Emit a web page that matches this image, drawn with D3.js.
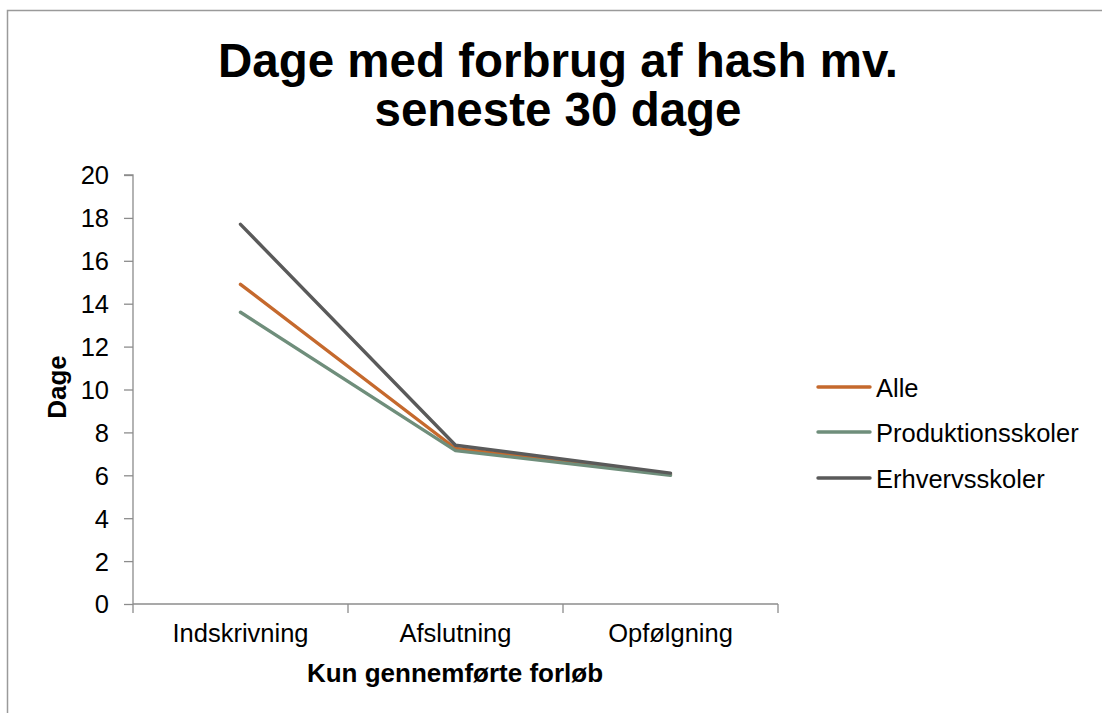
<!DOCTYPE html>
<html><head><meta charset="utf-8">
<script src="https://cdn.jsdelivr.net/npm/d3@7"></script>
<style>
html,body{margin:0;padding:0;background:#fff;}
svg{display:block;font-family:"Liberation Sans",Arial,sans-serif;}
</style></head>
<body>
<script>
const categories = ["Indskrivning", "Afslutning", "Opfølgning"];
const seriesNames = ["Alle", "Produktionsskoler", "Erhvervsskoler"];
const alle = [14.9, 7.25, 6.05];
const produktionsskoler = [13.6, 7.15, 6.0];
const erhvervsskoler = [17.7, 7.4, 6.1];
const yTicks = [0, 2, 4, 6, 8, 10, 12, 14, 16, 18, 20];
const colors = ["#C5692D", "#6F8E7B", "#5A5A5A"];

const W = 1102, H = 713;
const svg = d3.select("body").append("svg").attr("width", W).attr("height", H);

// outer frame
svg.append("rect").attr("x", 7.5).attr("y", 10.5).attr("width", W).attr("height", H)
  .attr("fill", "none").attr("stroke", "#9a9a9a").attr("stroke-width", 1.5);

const pLeft = 133, pRight = 778, pTop = 175, pBottom = 604;
const x = d3.scaleBand().domain(categories).range([pLeft, pRight]).paddingInner(0).paddingOuter(0);
const y = d3.scaleLinear().domain([0, 20]).range([pBottom, pTop]);

// y axis
const yAxis = d3.axisLeft(y).tickValues(yTicks).tickSize(9).tickPadding(15);
const gy = svg.append("g").attr("transform", `translate(${pLeft},0)`).call(yAxis);
gy.select(".domain").attr("stroke", "#8c8c8c").attr("stroke-width", 1.3).attr("d", `M-9,${pTop}H0V${pBottom}`);
gy.selectAll(".tick line").attr("stroke", "#8c8c8c").attr("stroke-width", 1.3);
gy.selectAll(".tick text").attr("font-size", 25.5).attr("fill", "#000").attr("dy", "0.35em")
  .attr("font-family", "Liberation Sans, Arial, sans-serif");

// x axis
const gx = svg.append("g").attr("transform", `translate(0,${pBottom})`);
gx.append("path").attr("d", `M${pLeft},0H${pRight}`).attr("stroke", "#8c8c8c").attr("stroke-width", 1.3);
const xTickPos = categories.map(c => x(c)).concat([x(categories[categories.length-1]) + x.bandwidth()]);
gx.selectAll("line.xt").data(xTickPos).enter().append("line")
  .attr("x1", d => d).attr("x2", d => d).attr("y1", 0).attr("y2", 9)
  .attr("stroke", "#8c8c8c").attr("stroke-width", 1.3);
gx.selectAll("text.xl").data(categories).enter().append("text")
  .attr("x", d => x(d) + x.bandwidth() / 2).attr("y", 38)
  .attr("text-anchor", "middle").attr("font-size", 25.5).attr("fill", "#000").text(d => d);

// lines
const data = [alle, produktionsskoler, erhvervsskoler];
const line = d3.line().x((d, i) => x(categories[i]) + x.bandwidth() / 2).y(d => y(d));
data.forEach((vals, i) => {
  svg.append("path").datum(vals).attr("d", line).attr("fill", "none")
    .attr("stroke", colors[i]).attr("stroke-width", 3.4).attr("stroke-linejoin", "round").attr("stroke-linecap", "round");
});

// title
svg.append("text").attr("x", 558).attr("y", 77).attr("text-anchor", "middle")
  .attr("font-size", 47.5).attr("font-weight", "bold").text("Dage med forbrug af hash mv.");
svg.append("text").attr("x", 558).attr("y", 126).attr("text-anchor", "middle")
  .attr("font-size", 47.5).attr("font-weight", "bold").text("seneste 30 dage");

// axis titles
svg.append("text").attr("transform", "translate(66,387) rotate(-90)").attr("text-anchor", "middle")
  .attr("font-size", 26).attr("font-weight", "bold").text("Dage");
svg.append("text").attr("x", 455).attr("y", 682).attr("text-anchor", "middle")
  .attr("font-size", 26).attr("font-weight", "bold").text("Kun gennemførte forløb");

// legend
const legY = [387, 432, 478];
seriesNames.forEach((n, i) => {
  svg.append("line").attr("x1", 818).attr("x2", 870).attr("y1", legY[i]).attr("y2", legY[i])
    .attr("stroke", colors[i]).attr("stroke-width", 3.4).attr("stroke-linecap", "round");
  svg.append("text").attr("x", 876).attr("y", legY[i] + 9.5).attr("font-size", 25.5).text(n);
});
</script>
</body></html>
